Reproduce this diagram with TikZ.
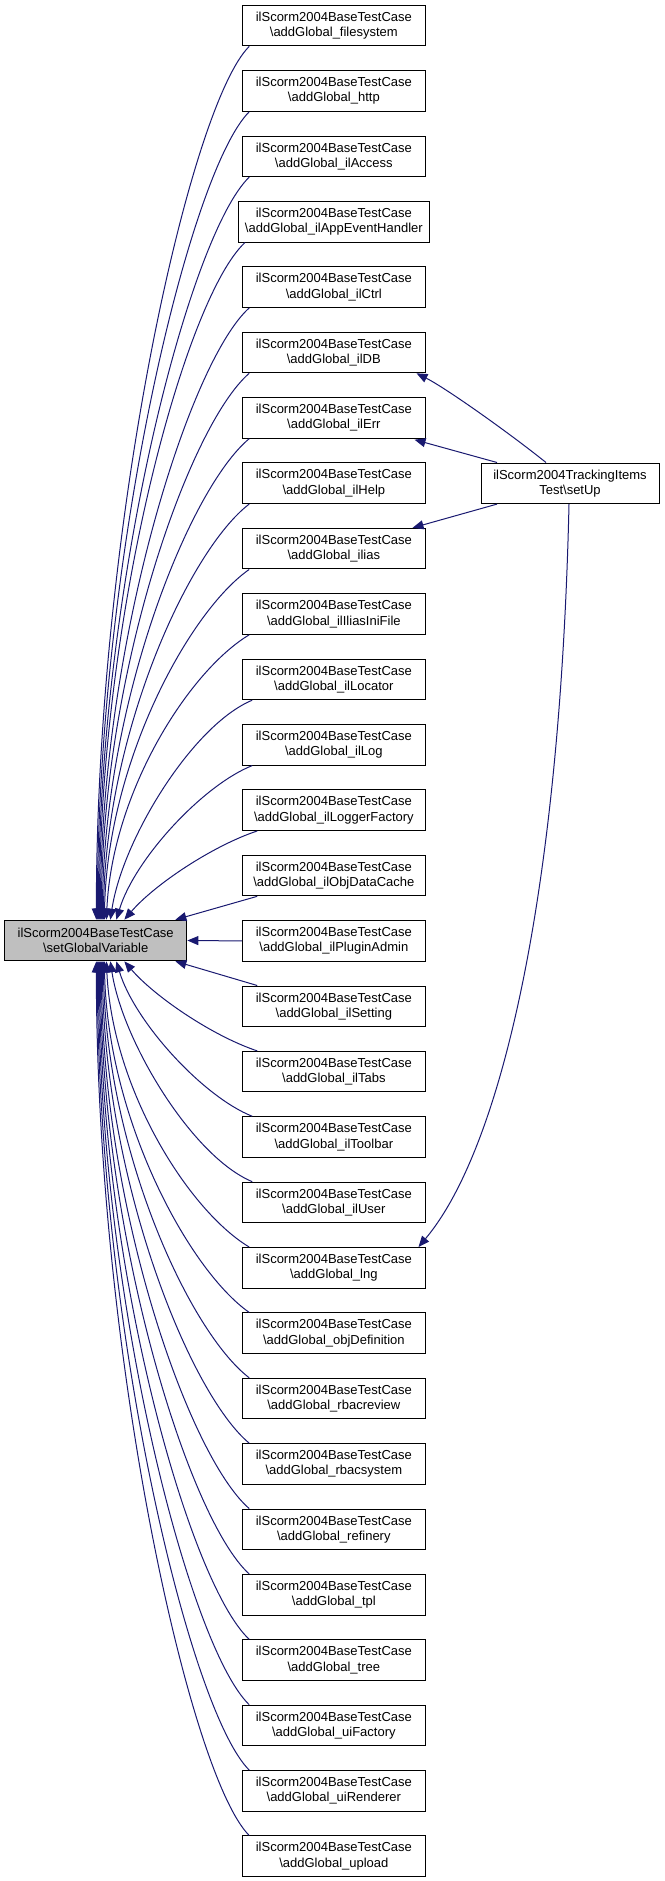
\documentclass[tikz,border=0pt]{standalone}
\usepackage{fontspec}
\setmainfont{Liberation Sans}
\usetikzlibrary{arrows.meta}
\definecolor{edgeblue}{HTML}{191970}
\definecolor{maingray}{HTML}{BFBFBF}
\tikzset{
  box/.style={draw=black, line width=1pt, fill=white, rectangle, minimum width=182.3pt,
    minimum height=40.6pt, inner xsep=6.5pt, inner ysep=0pt, align=center,
    font=\fontsize{13}{15.3}\selectfont},
  mainbox/.style={box, fill=maingray},
  edge/.style={draw=edgeblue, line width=1pt, -{Triangle[length=11pt,width=9pt]}}
}
\begin{document}
\begin{tikzpicture}[x=1pt,y=-1pt]
\useasboundingbox (0,0) rectangle (664,1881);
% main node
\node[mainbox] (main) at (95.7,940.5) {ilScorm2004BaseTestCase\\\textbackslash setGlobalVariable};
% callers
\foreach \i/\t in {1/filesystem,2/http,3/ilAccess,4/ilAppEventHandler,5/ilCtrl,6/ilDB,7/ilErr,
  8/ilHelp,9/ilias,10/ilIliasIniFile,11/ilLocator,12/ilLog,13/ilLoggerFactory,14/ilObjDataCache,
  15/ilPluginAdmin,16/ilSetting,17/ilTabs,18/ilToolbar,19/ilUser,20/lng,21/objDefinition,
  22/rbacreview,23/rbacsystem,24/refinery,25/tpl,26/tree,27/uiFactory,28/uiRenderer,29/upload}{
  \node[box] (n\i) at (333.85,{25.6+(\i-1)*65.38}) {ilScorm2004BaseTestCase\\\textbackslash addGlobal\_\t};
}
\node[box, minimum width=178pt] (setup) at (570,483.3) {ilScorm2004TrackingItems\\Test\textbackslash setUp};
% edges from upper nodes
\foreach \i/\xe/\ax/\ay/\bx in {1/97/-60/60/0,2/98/-60/60/0,3/99/-60/58/0,4/100/-60/56/0,5/101/-60/54/0,
  6/102/-60/52/0,7/103/-60/50/1,8/104/-60/46/2,9/105/-60/42/3,10/107/-60/36/6}{
  \pgfmathsetmacro\dy{874-(\i-1)*65.38}
  \draw[edge] ([xshift=7pt]n\i.south west) .. controls +(\ax,\ay) and +(\bx,{-0.45*\dy}) .. ([xshift={\xe-4.7}]main.north west);
}
\draw[edge] ([xshift=10pt]n11.south west) .. controls +(-60,25) and +(12,-80) .. ([xshift={111-4.7}]main.north west);
\draw[edge] ([xshift=10pt]n12.south west) .. controls +(-50,20) and +(18,-60) .. ([xshift={117-4.7}]main.north west);
\draw[edge] ([xshift=15pt]n13.south west) .. controls +(-45,15) and +(30,-35) .. ([xshift={125-4.7}]main.north west);
\draw[edge] ([xshift=15pt]n14.south west) -- ([xshift={176-4.7}]main.north west);
\draw[edge] (n15.west) -- (main.east);
\draw[edge] ([xshift=15pt]n16.north west) -- ([xshift={176-4.7}]main.south west);
\draw[edge] ([xshift=15pt]n17.north west) .. controls +(-45,-15) and +(30,35) .. ([xshift={125-4.7}]main.south west);
\draw[edge] ([xshift=10pt]n18.north west) .. controls +(-50,-20) and +(18,60) .. ([xshift={117-4.7}]main.south west);
\draw[edge] ([xshift=10pt]n19.north west) .. controls +(-60,-25) and +(12,80) .. ([xshift={111-4.7}]main.south west);
% edges from lower nodes
\foreach \i/\xe/\ax/\ay/\bx in {20/107/-60/-36/6,21/105/-60/-42/3,22/104/-60/-46/2,23/103/-60/-50/1,
  24/102/-60/-52/0,25/101/-60/-54/0,26/100/-60/-56/0,27/99/-60/-58/0,28/98/-60/-60/0,29/97/-60/-60/0}{
  \pgfmathsetmacro\dy{(\i-1)*65.38+5.3-961}
  \draw[edge] ([xshift=7pt]n\i.north west) .. controls +(\ax,\ay) and +(\bx,{0.45*\dy}) .. ([xshift={\xe-4.7}]main.south west);
}
% edges from setUp
\draw[edge] ([xshift=-24pt]setup.north) .. controls +(-40,-32) and +(28,14) .. ([xshift=-9pt]n6.south east);
\draw[edge] ([xshift=-73pt]setup.north) -- ([xshift=-11pt,yshift=-1pt]n7.south east);
\draw[edge] ([xshift=-73pt]setup.south) -- ([xshift=-13pt]n9.north east);
\draw[edge] ([xshift=-1pt]setup.south) .. controls (560,900) and (500,1150) .. ([xshift=-7pt]n20.north east);
\end{tikzpicture}
\end{document}
